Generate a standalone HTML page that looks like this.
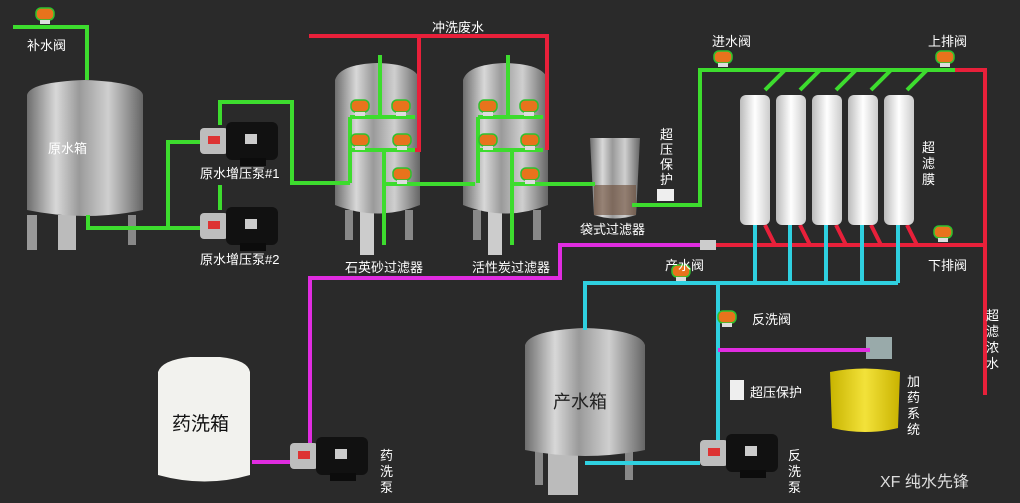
<!DOCTYPE html>
<html><head><meta charset="utf-8"><style>
html,body{margin:0;padding:0;background:#2a2a2a;}
svg{display:block}
text{font-family:"Liberation Sans","Noto Sans CJK SC",sans-serif;fill:#fff;font-size:13px}
</style></head><body>
<svg width="1020" height="503" viewBox="0 0 1020 503" xmlns="http://www.w3.org/2000/svg">
<defs>
<linearGradient id="steel" x1="0" x2="1" y1="0" y2="0">
<stop offset="0" stop-color="#6e6e6e"/><stop offset="0.25" stop-color="#d8d8d8"/><stop offset="0.45" stop-color="#9a9a9a"/><stop offset="0.7" stop-color="#cfcfcf"/><stop offset="1" stop-color="#666"/></linearGradient>
<linearGradient id="mem" x1="0" x2="1"><stop offset="0" stop-color="#bbb"/><stop offset="0.5" stop-color="#fff"/><stop offset="1" stop-color="#ccc"/></linearGradient>
<linearGradient id="yel" x1="0" x2="1"><stop offset="0" stop-color="#c8b400"/><stop offset="0.5" stop-color="#f3e23a"/><stop offset="1" stop-color="#c9b300"/></linearGradient>
<g id="valve"><rect x="-9" y="-7" width="18" height="12" rx="5" fill="#e8731c" stroke="#2ec22e" stroke-width="1.5"/><rect x="-5" y="5" width="10" height="4" fill="#ddd"/></g>
<g id="pump"><rect x="0" y="8" width="28" height="26" rx="4" fill="#bdbdbd"/><rect x="8" y="16" width="12" height="8" fill="#d33"/><rect x="26" y="2" width="52" height="38" rx="6" fill="#111"/><rect x="45" y="14" width="12" height="10" fill="#ccc"/><rect x="40" y="38" width="26" height="8" fill="#0c0c0c"/></g>
</defs>
<rect width="1020" height="503" fill="#2a2a2a"/>

<rect x="27" y="215" width="10" height="35" fill="#999"/><rect x="58" y="215" width="18" height="35" fill="#bbb"/><rect x="128" y="215" width="8" height="30" fill="#888"/>
<path d="M27 95 Q30 82 85 80 Q140 82 143 95 L143 210 Q85 222 27 210Z" fill="url(#steel)"/>
<g id="flt"><rect x="345" y="210" width="8" height="30" fill="#888"/><rect x="360" y="210" width="14" height="45" fill="#ccc"/><rect x="405" y="210" width="8" height="30" fill="#888"/>
<path d="M335 80 Q340 64 378 63 Q416 64 420 80 L420 205 Q378 222 335 205Z" fill="url(#steel)"/></g>
<use href="#flt" transform="translate(128,0)"/>
<path d="M590 138 L640 138 L636 215 Q615 222 594 215Z" fill="url(#steel)"/><rect x="594" y="185" width="42" height="30" fill="#6b4a33" opacity="0.6"/>
<rect x="548" y="450" width="30" height="45" fill="#bbb"/><rect x="535" y="450" width="8" height="35" fill="#888"/><rect x="625" y="450" width="8" height="30" fill="#888"/>
<path d="M525 345 Q530 330 585 328 Q640 330 645 345 L645 450 Q585 462 525 450Z" fill="url(#steel)"/>
<path d="M158 372 Q162 360 190 357 L220 357 Q248 360 250 372 L250 475 Q205 488 158 475Z" fill="#f2f2ee"/>
<path d="M830 372 Q865 365 900 372 L898 428 Q865 436 832 428Z" fill="url(#yel)"/>
<rect x="866" y="337" width="26" height="22" fill="#9aa" />

<g stroke="#e8203a" stroke-width="4" fill="none">
<path d="M309 36 H547 V150"/><path d="M419 36 V150 H410"/>
<path d="M955 70 H985 V395"/><path d="M710 245 H985"/>
<path d="M765 225 l10 20 M800 225 l10 20 M836 225 l10 20 M871 225 l10 20 M907 225 l10 20"/>
</g>
<g stroke="#3ddc2e" stroke-width="4" fill="none">
<path d="M13 27 H87 V80"/>
<path d="M88 215 V228 H200"/><path d="M168 228 V142 H200"/>
<path d="M220 125 V102 H292 V183 H350"/><path d="M220 210 V185"/>
<path d="M380 55 V118 M350 117 H415 M350 150 H415 M350 117 V183 M384 150 V245 M384 184 H475"/>
<path d="M508 55 V118 M478 117 H543 M478 150 H543 M478 117 V183 M512 150 V245 M512 184 H595"/>
<path d="M632 205 H700 V70 H955"/>
<path d="M765 90 l20 -20 M800 90 l20 -20 M836 90 l20 -20 M871 90 l20 -20 M907 90 l20 -20"/>
</g>
<g fill="url(#mem)">
<rect x="740" y="95" width="30" height="130" rx="6"/><rect x="776" y="95" width="30" height="130" rx="6"/><rect x="812" y="95" width="30" height="130" rx="6"/><rect x="848" y="95" width="30" height="130" rx="6"/><rect x="884" y="95" width="30" height="130" rx="6"/>
</g>
<g stroke="#2fd0e0" stroke-width="4" fill="none">
<path d="M585 330 V283 H898"/><path d="M755 225 V283 M790 225 V283 M826 225 V283 M862 225 V283 M898 225 V283"/>
<path d="M718 283 V460"/><path d="M585 463 H700"/>
</g>
<g stroke="#e02ce0" stroke-width="4" fill="none">
<path d="M707 245 H560 V278 H310 V450"/><path d="M252 462 H290"/><path d="M718 350 H870"/>
</g>
<rect x="700" y="240" width="16" height="10" fill="#ccc"/>
<use href="#pump" transform="translate(200,120)"/>
<use href="#pump" transform="translate(200,205)"/>
<use href="#pump" transform="translate(290,435)"/>
<use href="#pump" transform="translate(700,432)"/>
<use href="#valve" x="45" y="15"/>
<use href="#valve" x="360" y="107"/><use href="#valve" x="401" y="107"/><use href="#valve" x="360" y="141"/><use href="#valve" x="402" y="141"/><use href="#valve" x="402" y="175"/>
<use href="#valve" x="488" y="107"/><use href="#valve" x="529" y="107"/><use href="#valve" x="488" y="141"/><use href="#valve" x="530" y="141"/><use href="#valve" x="530" y="175"/>
<use href="#valve" x="723" y="58"/><use href="#valve" x="945" y="58"/><use href="#valve" x="943" y="233"/><use href="#valve" x="681" y="272"/><use href="#valve" x="727" y="318"/>
<rect x="657" y="189" width="17" height="12" fill="#eee"/><rect x="730" y="380" width="14" height="20" fill="#eee"/>
<text x="27" y="50">补水阀</text>
<text x="48" y="153">原水箱</text>
<text x="200" y="178">原水增压泵#1</text>
<text x="200" y="264">原水增压泵#2</text>
<text x="345" y="272">石英砂过滤器</text>
<text x="472" y="272">活性炭过滤器</text>
<text x="432" y="32">冲洗废水</text>
<text x="580" y="234">袋式过滤器</text>
<text x="712" y="46">进水阀</text>
<text x="928" y="46">上排阀</text>
<text x="928" y="270">下排阀</text>
<text x="665" y="270">产水阀</text>
<text x="752" y="324">反洗阀</text>
<text x="750" y="397">超压保护</text>
<g font-size="13"><text x="660" y="139">超</text><text x="660" y="154">压</text><text x="660" y="169">保</text><text x="660" y="184">护</text>
<text x="922" y="152">超</text><text x="922" y="168">滤</text><text x="922" y="184">膜</text>
<text x="986" y="320">超</text><text x="986" y="336">滤</text><text x="986" y="352">浓</text><text x="986" y="368">水</text>
<text x="907" y="386">加</text><text x="907" y="402">药</text><text x="907" y="418">系</text><text x="907" y="434">统</text>
<text x="380" y="460">药</text><text x="380" y="476">洗</text><text x="380" y="492">泵</text>
<text x="788" y="460">反</text><text x="788" y="476">洗</text><text x="788" y="492">泵</text></g>
<text x="553" y="408" style="font-size:18px;fill:#222">产水箱</text>
<text x="172" y="430" style="font-size:19px;fill:#111">药洗箱</text>
<text x="880" y="487" style="font-size:16px;fill:#ddd">XF 纯水先锋</text>
</svg>
</body></html>
